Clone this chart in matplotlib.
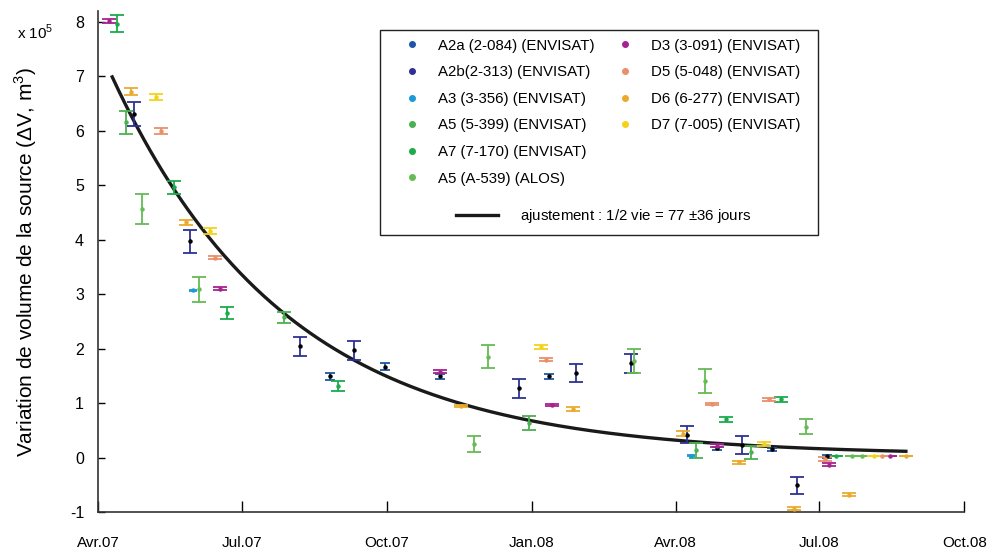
import numpy as np
import pandas as pd
import matplotlib
matplotlib.use('Agg')
import matplotlib.pyplot as plt
from matplotlib.lines import Line2D
from matplotlib.patches import Rectangle

plt.rcParams['font.family'] = ['Liberation Sans', 'DejaVu Sans']
plt.rcParams['mathtext.fontset'] = 'custom'
plt.rcParams['mathtext.rm'] = 'Liberation Sans'
plt.rcParams['axes.unicode_minus'] = False

# DONNEES (volume x 1e5 m3, barre d'erreur)
a2a_dates = ['2007-08-26', '2007-09-30', '2007-11-04', '2008-01-12', '2008-04-27', '2008-06-01', '2008-07-06']
a2a_vals = [1.49, 1.67, 1.49, 1.49, 0.17, 0.15, 0.02]
a2a_errs = [0.07, 0.06, 0.05, 0.05, 0.03, 0.03, 0.03]

a2b_dates = ['2007-04-24', '2007-05-29', '2007-08-07', '2007-09-10', '2007-12-24', '2008-01-29',
             '2008-03-04', '2008-04-08', '2008-05-13', '2008-06-17']
a2b_vals = [6.31, 3.97, 2.04, 1.97, 1.27, 1.55, 1.73, 0.42, 0.23, -0.51]
a2b_errs = [0.22, 0.21, 0.18, 0.17, 0.17, 0.17, 0.18, 0.16, 0.16, 0.16]

a3_dates = ['2007-05-31', '2008-04-11']
a3_vals = [3.07, 0.03]
a3_errs = [0.01, 0.01]

a5_dates = ['2007-04-19', '2007-07-28', '2007-12-30', '2008-04-14', '2008-05-19']
a5_vals = [6.16, 2.58, 0.63, 0.13, 0.10]
a5_errs = [0.21, 0.10, 0.13, 0.13, 0.12]

a7_dates = ['2007-04-13', '2007-05-19', '2007-06-22', '2007-08-31', '2008-05-03', '2008-06-07', '2008-07-12']
a7_vals = [7.97, 4.96, 2.65, 1.32, 0.70, 1.07, 0.03]
a7_errs = [0.15, 0.12, 0.11, 0.09, 0.05, 0.05, 0.005]

alos_dates = ['2007-04-29', '2007-06-04', '2007-11-25', '2007-12-04', '2008-03-06', '2008-04-20',
              '2008-06-23', '2008-07-22', '2008-07-28']
alos_vals = [4.56, 3.09, 0.25, 1.85, 1.78, 1.40, 0.57, 0.03, 0.03]
alos_errs = [0.28, 0.23, 0.14, 0.21, 0.22, 0.22, 0.13, 0.005, 0.005]

d3_dates = ['2007-04-08', '2007-06-17', '2007-11-04', '2008-01-14', '2008-04-27', '2008-07-07', '2008-08-15']
d3_vals = [8.02, 3.10, 1.58, 0.96, 0.22, -0.13, 0.03]
d3_errs = [0.04, 0.03, 0.03, 0.02, 0.03, 0.03, 0.005]

d5_dates = ['2007-05-11', '2007-06-14', '2008-01-10', '2008-04-24', '2008-05-30', '2008-07-05', '2008-08-10']
d5_vals = [6.00, 3.67, 1.80, 0.99, 1.07, -0.03, 0.03]
d5_errs = [0.05, 0.03, 0.03, 0.02, 0.03, 0.04, 0.005]

d6_dates = ['2007-04-22', '2007-05-27', '2007-11-17', '2008-01-27', '2008-04-06', '2008-05-11',
            '2008-06-15', '2008-07-20', '2008-08-25']
d6_vals = [6.72, 4.32, 0.94, 0.89, 0.44, -0.09, -0.94, -0.68, 0.03]
d6_errs = [0.07, 0.05, 0.02, 0.03, 0.04, 0.03, 0.03, 0.03, 0.005]

d7_dates = ['2007-05-08', '2007-06-11', '2008-01-07', '2008-05-27', '2008-08-05']
d7_vals = [6.62, 4.16, 2.03, 0.25, 0.03]
d7_errs = [0.06, 0.05, 0.03, 0.03, 0.005]

# AJUSTEMENT EXPONENTIEL (1/2 vie = 77 jours)
fit_start = '2007-04-10'
fit_end = '2008-08-25'
fit_amp = 6.95
fit_offset = 0.04
half_life = 77

tick_dates = ['2007-04-01', '2007-07-01', '2007-10-01', '2008-01-01', '2008-04-01', '2008-07-01', '2008-10-01']
tick_labels = ['Avr.07', 'Jul.07', 'Oct.07', 'Jan.08', 'Avr.08', 'Jul.08', 'Oct.08']

series = [
    ('A2a (2-084) (ENVISAT)', a2a_dates, a2a_vals, a2a_errs, '#1d56a5', 'black', 3.5),
    ('A2b(2-313) (ENVISAT)', a2b_dates, a2b_vals, a2b_errs, '#2e3192', 'black', 5),
    ('A3 (3-356) (ENVISAT)', a3_dates, a3_vals, a3_errs, '#1b9ad6', '#1b9ad6', 3),
    ('A5 (5-399) (ENVISAT)', a5_dates, a5_vals, a5_errs, '#4cb050', '#4cb050', 5),
    ('A7 (7-170) (ENVISAT)', a7_dates, a7_vals, a7_errs, '#1aab4b', '#1aab4b', 5),
    ('A5 (A-539) (ALOS)', alos_dates, alos_vals, alos_errs, '#66bb55', '#66bb55', 5),
    ('D3 (3-091) (ENVISAT)', d3_dates, d3_vals, d3_errs, '#a5238f', '#a5238f', 5),
    ('D5 (5-048) (ENVISAT)', d5_dates, d5_vals, d5_errs, '#e8906a', '#e8906a', 5),
    ('D6 (6-277) (ENVISAT)', d6_dates, d6_vals, d6_errs, '#eaaa2e', '#eaaa2e', 5),
    ('D7 (7-005) (ENVISAT)', d7_dates, d7_vals, d7_errs, '#f4d21a', '#f4d21a', 5),
]

fig = plt.figure(figsize=(9.9, 5.53), dpi=100)
ax = fig.add_axes([0.099, 0.0741, 0.875, 0.906])

handles = []
for label, dates, vals, errs, color, mcolor, cap in series:
    ax.errorbar(pd.to_datetime(dates), vals, yerr=errs, fmt='o', ms=2.2, mfc=mcolor, mec=mcolor,
                ecolor=color, elinewidth=1.3, capsize=cap, capthick=1.3, zorder=3)
    handles.append(Line2D([], [], marker='o', linestyle='none', color=color, ms=4, label=label))

# courbe d'ajustement
fit_t = pd.date_range(fit_start, fit_end, freq='D')
days = (fit_t - fit_t[0]).days.values
fit_y = fit_amp * 0.5 ** (days / half_life) + fit_offset
ax.plot(fit_t, fit_y, color='#1a1a1a', lw=2.4, zorder=2)

ax.set_xlim(pd.Timestamp(tick_dates[0]), pd.Timestamp(tick_dates[-1]))
ax.set_ylim(-1, 8.2)
ax.set_xticks(pd.to_datetime(tick_dates))
ax.set_xticklabels(tick_labels)
ax.set_yticks(range(-1, 9))
ax.tick_params(axis='x', direction='in', length=8, width=1, pad=17, labelsize=11)
ax.tick_params(axis='y', direction='in', length=5, width=1, pad=10, labelsize=11.5)
for s in ['top', 'right']:
    ax.spines[s].set_visible(False)
for s in ['left', 'bottom']:
    ax.spines[s].set_color('#333333')
    ax.spines[s].set_linewidth(1.2)

ax.set_ylabel('Variation de volume de la source ($\\Delta$V, m$^3$)', fontsize=15)
ax.yaxis.set_label_coords(-0.068, 0.5)
fig.text(0.017, 0.93, 'x 10$^5$', fontsize=11)

# LEGENDE
ax.add_patch(Rectangle((0.326, 0.553), 0.505, 0.409, transform=ax.transAxes, fill=False,
                       edgecolor='#222222', lw=1.0, zorder=5))
blank = Line2D([], [], linestyle='none', label=' ')
leg_handles = handles[:6] + handles[6:] + [blank, blank]
leg1 = ax.legend(handles=leg_handles, ncol=2, loc='upper left', bbox_to_anchor=(0.354, 0.945),
                 borderaxespad=0, borderpad=0, fontsize=10.8, frameon=False,
                 handlelength=1.0, handletextpad=1.23, columnspacing=1.5, labelspacing=0.84)
ax.add_artist(leg1)
fit_handle = Line2D([], [], color='#1a1a1a', lw=2.4, label='ajustement : 1/2 vie = 77 $\\pm$36 jours')
ax.legend(handles=[fit_handle], loc='center', bbox_to_anchor=(0.584, 0.591), frameon=False,
          fontsize=10.8, handlelength=2.8, handletextpad=1.45)

plt.savefig('out.png', dpi=100)
